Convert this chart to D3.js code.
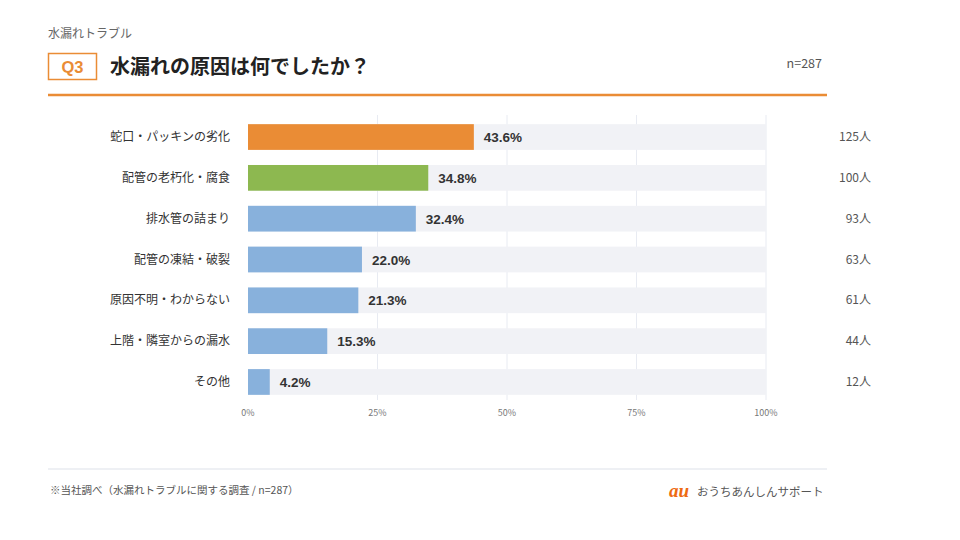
<!DOCTYPE html>
<html>
<head>
<meta charset="utf-8">
<script src="https://cdn.jsdelivr.net/npm/d3@7"></script>
<style>
  html, body { margin: 0; padding: 0; background: #fff; }
  svg { display: block; font-family: "Noto Sans CJK JP", "Noto Sans", sans-serif; }
</style>
</head>
<body>
<svg id="chart" width="960" height="540"></svg>
<script>
// data
const categories = ['蛇口・パッキンの劣化', '配管の老朽化・腐食', '排水管の詰まり', '配管の凍結・破裂', '原因不明・わからない', '上階・隣室からの漏水', 'その他'];
const percents = [43.6, 34.8, 32.4, 22.0, 21.3, 15.3, 4.2];
const counts = [125, 100, 93, 63, 61, 44, 12];
const barColors = ['#ea8c35', '#8db850', '#88b1dc', '#88b1dc', '#88b1dc', '#88b1dc', '#88b1dc'];
const ticks = [0, 25, 50, 75, 100];

const svg = d3.select('#chart');

// header
svg.append('text').attr('x', 48).attr('y', 38)
  .style('font-size', '12px').style('fill', '#666').text('水漏れトラブル');

svg.append('rect').attr('x', 48.5).attr('y', 53.5).attr('width', 48).attr('height', 26)
  .attr('fill', '#fff').attr('stroke', '#ea8c35').attr('stroke-width', 1.5);
svg.append('text').attr('x', 72.5).attr('y', 73).attr('text-anchor', 'middle')
  .style('font-size', '16.5px').style('font-weight', 'bold').style('fill', '#ea8c35')
  .style('font-family', 'Liberation Sans, Arial, sans-serif').text('Q3');

svg.append('text').attr('x', 110).attr('y', 74)
  .style('font-size', '20px').style('font-weight', 'bold').style('fill', '#222')
  .text('水漏れの原因は何でしたか？');

svg.append('text').attr('x', 822).attr('y', 68).attr('text-anchor', 'end')
  .style('font-size', '12.5px').style('fill', '#555').text('n=287');

svg.append('line').attr('x1', 48).attr('x2', 827).attr('y1', 95).attr('y2', 95)
  .attr('stroke', '#ea8c35').attr('stroke-width', 2.5);

// scales
const x = d3.scaleLinear().domain([0, 100]).range([248, 766]);
const y = d3.scaleBand().domain(categories).range([116, 403]).paddingInner(0.37).paddingOuter(0.2);

// grid
svg.append('g').selectAll('line').data(ticks.slice(1)).join('line')
  .attr('x1', d => x(d)).attr('x2', d => x(d))
  .attr('y1', 115).attr('y2', 400)
  .attr('stroke', '#e8ebf2').attr('stroke-width', 1);

// track
svg.append('g').selectAll('rect').data(categories).join('rect')
  .attr('x', x(0)).attr('y', d => y(d))
  .attr('width', x(100) - x(0)).attr('height', y.bandwidth())
  .attr('fill', '#f1f2f6');

// bars
svg.append('g').selectAll('rect').data(categories).join('rect')
  .attr('x', x(0)).attr('y', d => y(d))
  .attr('width', (d, i) => x(percents[i]) - x(0)).attr('height', y.bandwidth())
  .attr('fill', (d, i) => barColors[i]);

// value labels
svg.append('g').selectAll('text').data(categories).join('text')
  .attr('x', (d, i) => x(percents[i]) + 10)
  .attr('y', d => y(d) + y.bandwidth() / 2 + 5)
  .style('font-size', '13.5px').style('font-weight', 'bold').style('fill', '#333')
  .style('font-family', 'Liberation Sans, Arial, sans-serif')
  .text((d, i) => percents[i].toFixed(1) + '%');

// category labels
svg.append('g').selectAll('text').data(categories).join('text')
  .attr('x', 230).attr('y', d => y(d) + y.bandwidth() / 2 + 4)
  .attr('text-anchor', 'end')
  .style('font-size', '12px').style('fill', '#333')
  .text(d => d);

// counts
svg.append('g').selectAll('text').data(categories).join('text')
  .attr('x', 871).attr('y', d => y(d) + y.bandwidth() / 2 + 4)
  .attr('text-anchor', 'end')
  .style('font-size', '12px').style('fill', '#555')
  .text((d, i) => counts[i] + '人');

// x axis ticks
svg.append('g').selectAll('text').data(ticks).join('text')
  .attr('x', d => x(d)).attr('y', 416).attr('text-anchor', 'middle')
  .style('font-size', '9px').style('fill', '#777')
  .text(d => d + '%');

// footer
svg.append('line').attr('x1', 48).attr('x2', 827).attr('y1', 469).attr('y2', 469)
  .attr('stroke', '#e8ebf0').attr('stroke-width', 1.5);
svg.append('text').attr('x', 50).attr('y', 494)
  .style('font-size', '10.5px').style('fill', '#555')
  .text('※当社調べ（水漏れトラブルに関する調査 / n=287）');

svg.append('text').attr('x', 669).attr('y', 497)
  .style('font-size', '19px').style('font-weight', 'bold').style('font-style', 'italic')
  .style('fill', '#ee6a12').style('font-family', 'Liberation Serif, serif')
  .text('au');
svg.append('text').attr('x', 697).attr('y', 496)
  .style('font-size', '11.5px').style('fill', '#555')
  .text('おうちあんしんサポート');
</script>
</body>
</html>
